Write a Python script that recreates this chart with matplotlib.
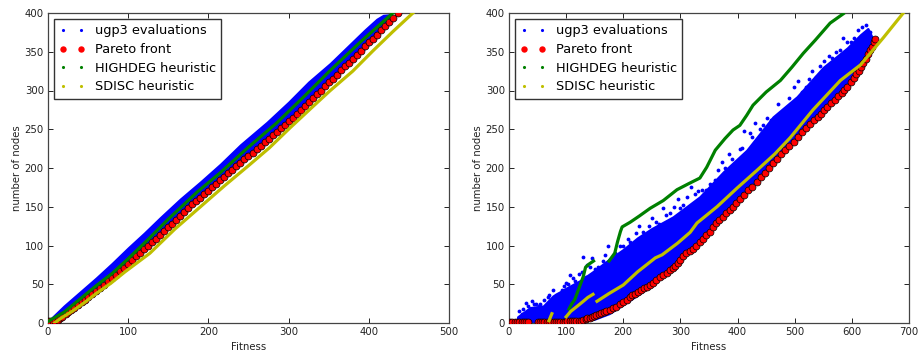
import matplotlib
matplotlib.use("Agg")
import matplotlib.pyplot as plt

nan = float("nan")

# left panel
left_blue_x = [2, 20, 40, 60, 80, 100, 120, 140, 165, 190, 215, 240, 273, 300, 325, 352, 375, 395, 410, 418, 428]
left_blue_up = [4, 22, 40, 58, 77, 97, 116, 136, 160, 182, 205, 230, 259, 285, 311, 335, 358, 378, 392, 397, 398]
left_blue_low = [2, 13, 26, 41, 58, 77, 96, 115, 139, 162, 186, 206, 238, 263, 285, 312, 334, 354, 372, 381, 392]

left_red_x = [0, 3, 6, 9, 12, 15, 18, 22, 25, 29, 33, 37, 42, 46, 50, 55, 60, 65, 70, 75, 80, 85, 90, 95, 100, 105, 110, 115, 120, 125, 130, 135, 140, 145, 150, 155, 160, 165, 170, 175, 180, 185, 190, 195, 200, 205, 210, 215, 220, 225, 230, 235, 240, 245, 250, 255, 260, 265, 270, 275, 280, 285, 290, 295, 300, 305, 310, 315, 320, 325, 330, 335, 340, 345, 350, 355, 360, 365, 370, 375, 380, 385, 390, 395, 400, 405, 410, 415, 420, 425, 430, 436]
left_red_y = [2, 2, 3, 3, 4, 6, 8, 11, 14, 17, 20, 23, 27, 30, 33, 37, 41, 45, 49, 54, 58, 62, 67, 71, 76, 81, 86, 90, 95, 100, 105, 109, 114, 119, 124, 128, 133, 138, 143, 148, 153, 157, 161, 166, 170, 175, 179, 184, 189, 193, 197, 202, 206, 211, 215, 220, 224, 229, 233, 238, 242, 247, 251, 256, 261, 265, 270, 275, 280, 285, 290, 295, 300, 306, 311, 315, 320, 326, 331, 336, 341, 346, 351, 357, 362, 367, 372, 378, 383, 389, 394, 400]

left_green_x = [0, 20, 40, 60, 80, 100, 125, 150, 186, 215, 250, 285, 320, 352, 390, 430]
left_green_y = [2, 14, 31, 48, 64, 83, 108, 134, 169, 194, 227, 258, 293, 326, 363, 400]

left_yellow_x = [8, 16, 30, 45, 60, 78, 96, 127, 158, 189, 220, 250, 276, 302, 330, 352, 380, 405, 430, 455]
left_yellow_y = [0, 6, 15, 26, 38, 51, 66, 90, 121, 149, 177, 203, 226, 252, 279, 300, 325, 351, 376, 400]

# right panel
right_blue_x = [15, 37, 60, 77, 100, 125, 150, 175, 200, 225, 250, 287, 334, 375, 416, 462, 504, 550, 592, 615, 628, 636]
right_blue_up = [8, 20, 22, 35, 45, 55, 68, 82, 95, 110, 122, 137, 163, 195, 223, 266, 292, 330, 355, 372, 380, 368]
right_blue_low = [1, 1, 1, 1, 2, 3, 5, 12, 24, 36, 49, 70, 106, 140, 172, 207, 240, 280, 310, 332, 350, 366]

right_dots_x = [18, 25, 30, 40, 48, 55, 62, 68, 77, 85, 92, 100, 107, 112, 118, 122, 130, 137, 145, 150, 160, 165, 173, 180, 190, 200, 208, 218, 228, 238, 250, 262, 270, 282, 295, 305, 318, 330, 345, 360, 372, 385, 395, 404, 412, 421, 430, 445, 452, 470, 482, 498, 506, 520, 530, 545, 560, 572, 585, 598, 610, 618, 625, 632,
                22, 34, 44, 52, 70, 82, 96, 104, 115, 127, 134, 142, 155, 168, 185, 195, 212, 222, 235, 245, 258, 275, 288, 300, 312, 325, 338, 352, 366, 378, 390, 408, 426, 440, 458, 476, 490, 512, 525, 538, 552, 566, 580, 592, 604]
right_dots_y = [15, 18, 26, 28, 25, 24, 30, 33, 43, 38, 42, 52, 62, 58, 48, 63, 85, 75, 84, 70, 66, 80, 100, 82, 88, 100, 108, 95, 125, 112, 135, 128, 148, 142, 160, 152, 176, 170, 172, 185, 208, 218, 205, 225, 248, 245, 258, 256, 265, 283, 275, 304, 312, 305, 325, 332, 345, 350, 368, 362, 378, 382, 384, 376,
                12, 22, 24, 22, 36, 36, 48, 50, 54, 66, 60, 72, 72, 88, 90, 100, 104, 116, 118, 125, 130, 140, 150, 148, 162, 166, 172, 180, 198, 200, 212, 226, 240, 250, 262, 270, 290, 298, 315, 318, 338, 342, 352, 362, 368]

right_red_x = [2, 6, 10, 14, 18, 22, 26, 30, 34, 50, 54, 58, 62, 66, 70, 74, 78, 82, 86, 90, 94, 98, 102, 106, 110, 114, 118, 122, 126, 130, 134, 137, 141, 145, 149, 153, 157, 161, 166, 170, 176, 182, 188, 194, 200, 206, 211, 216, 221, 226, 231, 236, 241, 247, 252, 258, 264, 270, 276, 282, 287, 291, 295, 299, 305, 310, 316, 322, 328, 334, 340, 345, 351, 357, 363, 368, 374, 380, 386, 392, 398, 404, 411, 418, 426, 434, 441, 448, 455, 462, 469, 476, 483, 490, 498, 506, 513, 520, 527, 534, 540, 546, 552, 557, 564, 570, 576, 582, 587, 592, 598, 603, 608, 612, 616, 620, 624, 628, 632, 635, 638, 641]
right_red_y = [1, 1, 1, 1, 1, 1, 1, 1, 1, 1, 1, 1, 1, 1, 1, 1, 1, 1, 1, 1, 1, 1, 2, 2, 2, 2, 3, 3, 3, 4, 5, 6, 7, 8, 9, 10, 12, 13, 14, 15, 17, 19, 21, 24, 27, 30, 33, 36, 38, 40, 42, 45, 47, 49, 52, 56, 59, 62, 65, 68, 71, 74, 77, 81, 86, 90, 93, 96, 100, 104, 109, 113, 118, 124, 129, 133, 137, 142, 146, 150, 155, 160, 165, 171, 176, 182, 188, 194, 200, 206, 212, 218, 223, 228, 234, 240, 246, 252, 257, 262, 266, 270, 275, 279, 284, 288, 293, 297, 301, 305, 311, 316, 321, 325, 330, 335, 341, 347, 352, 356, 362, 367]

right_green_x = [105, 110, 115, 120, 125, 130, 134, 140, 148, nan, 175, 185, 190, 195, 198, 212, 228, 247, 270, 294, 315, 334, 346, 361, 378, 392, 404, 416, 427, 450, 475, 495, 515, 536, 562, 585]
right_green_y = [18, 25, 30, 40, 50, 60, 72, 76, 80, nan, 80, 90, 105, 118, 124, 130, 138, 148, 158, 172, 180, 187, 201, 223, 238, 249, 255, 268, 281, 298, 313, 330, 348, 365, 387, 399]

right_yellow_x = [70, 75, nan, 100, 108, 120, 130, 138, 147, nan, 154, 175, 200, 225, 256, 268, 295, 317, 329, 364, 399, 434, 465, 492, 532, 580, 615, 655, 690]
right_yellow_y = [3, 12, nan, 8, 15, 22, 28, 33, 37, nan, 28, 38, 49, 66, 84, 88, 103, 117, 129, 150, 174, 197, 218, 239, 275, 313, 333, 368, 400]

tick_kw = dict(direction="in", top=True, right=True, length=3.5, width=0.7, labelsize=7.3, pad=3, colors="#222222")
label_names = ["ugp3 evaluations", "Pareto front", "HIGHDEG heuristic", "SDISC heuristic"]

fig = plt.figure(figsize=(9.18, 3.51), dpi=100)
ax1 = fig.add_axes([48 / 918, 1 - 323 / 351, 401 / 918, 310 / 351])
ax2 = fig.add_axes([509 / 918, 1 - 323 / 351, 400 / 918, 310 / 351])


def draw_panel(ax, blue_x, blue_up, blue_low, dots_x, dots_y, red_x, red_y, green_x, green_y, yellow_x, yellow_y, xmax):
    ax.fill_between(blue_x, blue_low, blue_up, color="b", lw=1.5, zorder=2)
    ax.plot(dots_x, dots_y, "b.", ms=5.5, mew=0, zorder=2)
    ax.plot(red_x, red_y, "ro", ms=5, mec="black", mew=0.5, zorder=3)
    ax.plot(green_x, green_y, "-", color="g", lw=2.3, zorder=4)
    ax.plot(yellow_x, yellow_y, "-", color="y", lw=2.3, zorder=5)
    # legend handles, same dots as the clouds
    ax.plot([], [], "b.", ms=4.5, mew=0, label=label_names[0])
    ax.plot([], [], "ro", ms=4.6, mec="none", label=label_names[1])
    ax.plot([], [], "g.", ms=4.5, mew=0, label=label_names[2])
    ax.plot([], [], "y.", ms=4.5, mew=0, label=label_names[3])
    ax.set_xlim(0, xmax)
    ax.set_ylim(0, 400)
    ax.set_xlabel("Fitness", fontsize=7.3, color="#222222", labelpad=3.5)
    ax.set_ylabel("number of nodes", fontsize=7.3, color="#222222", labelpad=2)
    ax.tick_params(**tick_kw)
    for s in ax.spines.values():
        s.set_linewidth(0.9)
        s.set_color("#444444")
    ax.legend(loc="upper left", numpoints=2, fontsize=9.25, fancybox=False, framealpha=1,
              edgecolor="#333333", borderaxespad=0.47, handletextpad=0.75, labelspacing=0.44,
              borderpad=0.42, handlelength=2.0)


draw_panel(ax1, left_blue_x, left_blue_up, left_blue_low, [], [], left_red_x, left_red_y,
           left_green_x, left_green_y, left_yellow_x, left_yellow_y, 500)
draw_panel(ax2, right_blue_x, right_blue_up, right_blue_low, right_dots_x, right_dots_y, right_red_x, right_red_y,
           right_green_x, right_green_y, right_yellow_x, right_yellow_y, 700)
ax1.set_xticks([0, 100, 200, 300, 400, 500])
ax2.set_xticks([0, 100, 200, 300, 400, 500, 600, 700])
ax1.set_yticks(range(0, 401, 50))
ax2.set_yticks(range(0, 401, 50))

fig.savefig("out.png", dpi=100)
